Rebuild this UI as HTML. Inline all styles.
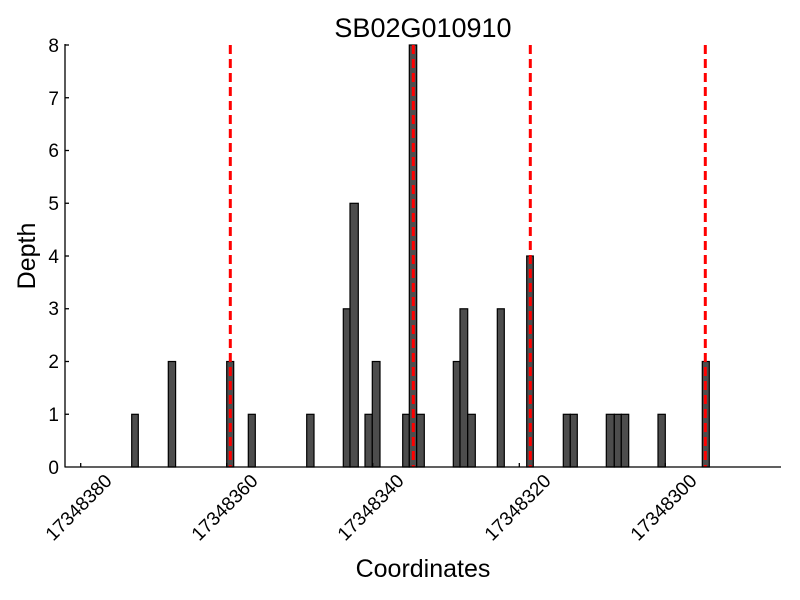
<!DOCTYPE html>
<html><head><meta charset="utf-8"><style>body{margin:0;background:#fff}svg{display:block}text{font-family:"Liberation Sans",sans-serif;fill:#000}</style></head><body>
<svg width="800" height="600" viewBox="0 0 800 600" xmlns="http://www.w3.org/2000/svg">
<g fill="#4d4d4d" stroke="#000" stroke-width="1.2">
<rect x="131.7" y="414.3" width="6.6" height="52.7"/>
<rect x="168.3" y="361.5" width="7.3" height="105.5"/>
<rect x="226.7" y="361.5" width="7" height="105.5"/>
<rect x="248.3" y="414.3" width="7" height="52.7"/>
<rect x="306.7" y="414.3" width="7.3" height="52.7"/>
<rect x="343.3" y="308.8" width="6.7" height="158.2"/>
<rect x="350" y="203.3" width="8.3" height="263.7"/>
<rect x="365" y="414.3" width="7.3" height="52.7"/>
<rect x="372.3" y="361.5" width="7.7" height="105.5"/>
<rect x="402.7" y="414.3" width="6.6" height="52.7"/>
<rect x="409.3" y="45" width="7.4" height="422"/>
<rect x="416.7" y="414.3" width="7.6" height="52.7"/>
<rect x="453.3" y="361.5" width="6.7" height="105.5"/>
<rect x="460" y="308.8" width="7.7" height="158.2"/>
<rect x="467.7" y="414.3" width="7.6" height="52.7"/>
<rect x="497.3" y="308.8" width="7" height="158.2"/>
<rect x="526.7" y="256" width="6.6" height="211"/>
<rect x="563.3" y="414.3" width="7" height="52.7"/>
<rect x="570.3" y="414.3" width="7" height="52.7"/>
<rect x="606.3" y="414.3" width="8" height="52.7"/>
<rect x="614.3" y="414.3" width="7" height="52.7"/>
<rect x="621.3" y="414.3" width="7.4" height="52.7"/>
<rect x="658" y="414.3" width="7.3" height="52.7"/>
<rect x="702.3" y="361.5" width="7" height="105.5"/>
</g>
<g stroke="#f00" stroke-width="3" stroke-dasharray="9,5">
<line x1="230.3" y1="45" x2="230.3" y2="467"/>
<line x1="413.3" y1="45" x2="413.3" y2="467"/>
<line x1="530.3" y1="45" x2="530.3" y2="467"/>
<line x1="705.3" y1="45" x2="705.3" y2="467"/>
</g>
<g stroke="#000" stroke-width="1.3">
<line x1="65" y1="44" x2="65" y2="467.5"/>
<line x1="65" y1="467" x2="781" y2="467"/>
<line x1="65" y1="45" x2="69" y2="45"/><line x1="65" y1="97.75" x2="69" y2="97.75"/><line x1="65" y1="150.5" x2="69" y2="150.5"/><line x1="65" y1="203.25" x2="69" y2="203.25"/><line x1="65" y1="256" x2="69" y2="256"/><line x1="65" y1="308.75" x2="69" y2="308.75"/><line x1="65" y1="361.5" x2="69" y2="361.5"/><line x1="65" y1="414.25" x2="69" y2="414.25"/>
<line x1="80.7" y1="467" x2="80.7" y2="463"/><line x1="226.7" y1="467" x2="226.7" y2="463"/><line x1="372.7" y1="467" x2="372.7" y2="463"/><line x1="519.3" y1="467" x2="519.3" y2="463"/><line x1="665.3" y1="467" x2="665.3" y2="463"/>
</g>
<g font-size="19" text-anchor="end">
<text x="59" y="52">8</text><text x="59" y="105">7</text><text x="59" y="157">6</text><text x="59" y="210">5</text><text x="59" y="263">4</text><text x="59" y="315">3</text><text x="59" y="368">2</text><text x="59" y="421">1</text><text x="59" y="474">0</text>
<text transform="translate(113,482) rotate(-45)">17348380</text>
<text transform="translate(259,482) rotate(-45)">17348360</text>
<text transform="translate(405,482) rotate(-45)">17348340</text>
<text transform="translate(552,482) rotate(-45)">17348320</text>
<text transform="translate(698,482) rotate(-45)">17348300</text>
</g>
<text x="423" y="37" font-size="27" text-anchor="middle">SB02G010910</text>
<text x="423" y="577" font-size="25" text-anchor="middle">Coordinates</text>
<text transform="translate(35,256) rotate(-90)" font-size="25" text-anchor="middle">Depth</text>
</svg>
</body></html>
